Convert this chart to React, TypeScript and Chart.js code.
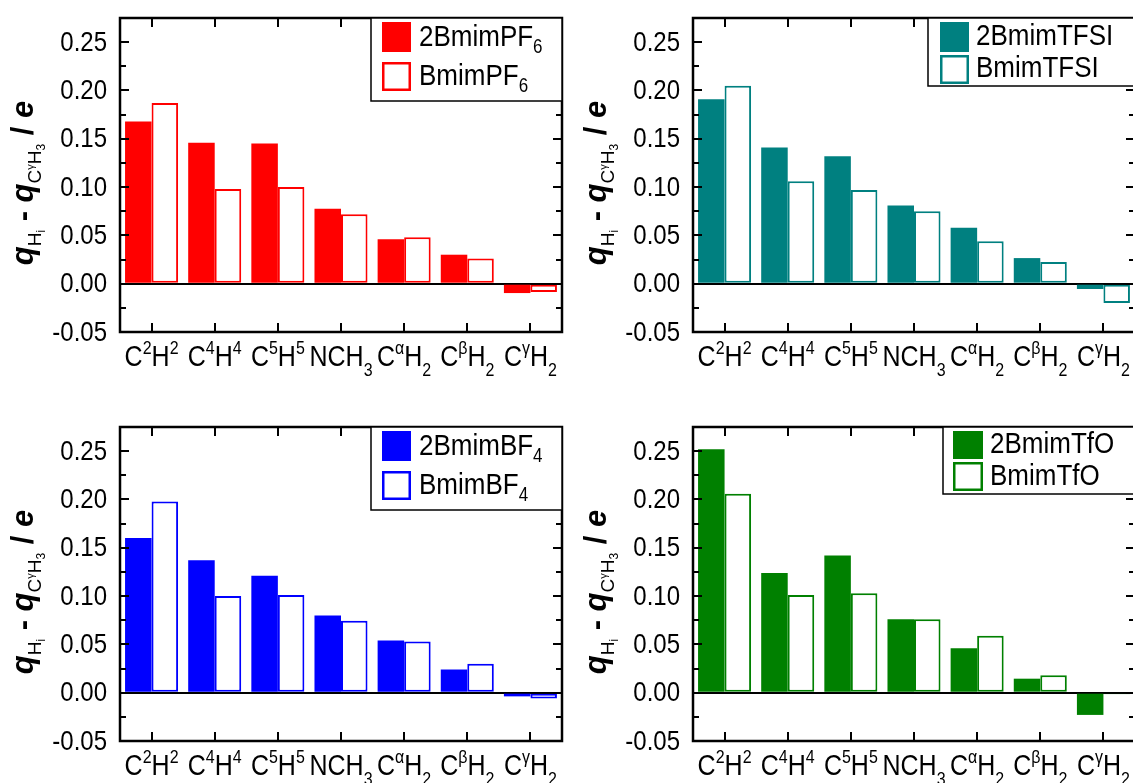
import React, { useEffect, useRef } from 'react';
import { Chart, registerables } from 'chart.js';

Chart.register(...registerables);

// ---------------- data ----------------
const categoryLabels = ['C^2H^2', 'C^4H^4', 'C^5H^5', 'NCH_3', 'C^αH_2', 'C^βH_2', 'C^γH_2'];

const yMin = -0.05;
const yMax = 0.275;
const yStep = 0.025;

const pf6Doubly = [0.168, 0.146, 0.145, 0.0775, 0.046, 0.030, -0.0097];
const pf6Single = [0.187, 0.098, 0.100, 0.072, 0.048, 0.026, -0.0086];

const tfsiDoubly = [0.191, 0.141, 0.132, 0.081, 0.058, 0.0265, -0.0055];
const tfsiSingle = [0.205, 0.106, 0.097, 0.075, 0.044, 0.0225, -0.020];

const bf4Doubly = [0.160, 0.137, 0.121, 0.080, 0.054, 0.024, -0.0038];
const bf4Single = [0.198, 0.100, 0.101, 0.0745, 0.053, 0.030, -0.006];

const tfoDoubly = [0.252, 0.124, 0.142, 0.076, 0.046, 0.0145, -0.023];
const tfoSingle = [0.206, 0.101, 0.103, 0.076, 0.059, 0.018, -0.0015];

const legendPF6 = ['2BmimPF_6', 'BmimPF_6'];
const legendTFSI = ['2BmimTFSI', 'BmimTFSI'];
const legendBF4 = ['2BmimBF_4', 'BmimBF_4'];
const legendTfO = ['2BmimTfO', 'BmimTfO'];

// ---------------- styling ----------------
const FONT = "'Liberation Sans', Arial, Helvetica, sans-serif";
const S = 1.15; // vertical text stretch of the reference

type Seg = { t: string; m: 'n' | 'sup' | 'sub' };

function parseRich(s: string): Seg[] {
  const segs: Seg[] = [];
  let i = 0;
  while (i < s.length) {
    const c = s[i];
    if ((c === '^' || c === '_') && i + 1 < s.length) {
      segs.push({ t: s[i + 1], m: c === '^' ? 'sup' : 'sub' });
      i += 2;
    } else {
      let t = '';
      while (i < s.length && s[i] !== '^' && s[i] !== '_') {
        t += s[i];
        i++;
      }
      segs.push({ t, m: 'n' });
    }
  }
  return segs;
}

function drawRich(
  ctx: CanvasRenderingContext2D,
  s: string,
  x: number,
  y: number,
  o: { size: number; small: number; raise: number; drop: number; center: boolean }
) {
  const segs = parseRich(s);
  const fontFor = (m: string) => `${m === 'n' ? o.size : o.small}px ${FONT}`;
  let total = 0;
  segs.forEach((sg) => {
    ctx.font = fontFor(sg.m);
    total += ctx.measureText(sg.t).width;
  });
  let cx = o.center ? -total / 2 : 0;
  ctx.save();
  ctx.translate(x, y);
  ctx.scale(1, S);
  ctx.textAlign = 'left';
  ctx.textBaseline = 'alphabetic';
  segs.forEach((sg) => {
    ctx.font = fontFor(sg.m);
    const dy = sg.m === 'sup' ? -o.raise : sg.m === 'sub' ? o.drop : 0;
    ctx.fillText(sg.t, cx, dy / S);
    cx += ctx.measureText(sg.t).width;
  });
  ctx.restore();
}

const titleSegs = [
  { t: 'q', f: `italic bold 31px ${FONT}`, dy: 0 },
  { t: 'H', f: `19px ${FONT}`, dy: 8 },
  { t: 'i', f: `12px ${FONT}`, dy: 12 },
  { t: ' - ', f: `bold 31px ${FONT}`, dy: 0 },
  { t: 'q', f: `italic bold 31px ${FONT}`, dy: 0 },
  { t: 'C', f: `19px ${FONT}`, dy: 8 },
  { t: 'γ', f: `11px ${FONT}`, dy: 1 },
  { t: 'H', f: `19px ${FONT}`, dy: 8 },
  { t: '3', f: `12px ${FONT}`, dy: 12 },
  { t: ' / ', f: `bold 31px ${FONT}`, dy: 0 },
  { t: 'e', f: `italic bold 31px ${FONT}`, dy: 0 },
];

type LegendCfg = {
  x: number;
  y: number;
  w: number;
  h: number;
  sqX: number;
  sqW: number;
  rows: { sqY: number; sqH: number; base: number }[];
  textX: number;
};

type PanelCfg = {
  left: number;
  top: number;
  color: string;
  doubly: number[];
  single: number[];
  legend: string[];
  box: LegendCfg;
};

const W = 566;
const H = 400;

const panels: PanelCfg[] = [
  {
    left: 0,
    top: 0,
    color: '#ff0000',
    doubly: pf6Doubly,
    single: pf6Single,
    legend: legendPF6,
    box: { x: 371, y: 18, w: 191, h: 83, sqX: 11, sqW: 29, rows: [{ sqY: 4, sqH: 30, base: 28 }, { sqY: 44, sqH: 29, base: 67 }], textX: 48 },
  },
  {
    left: 573,
    top: 0,
    color: '#008080',
    doubly: tfsiDoubly,
    single: tfsiSingle,
    legend: legendTFSI,
    box: { x: 355, y: 18, w: 207, h: 68, sqX: 12, sqW: 29, rows: [{ sqY: 4, sqH: 30, base: 27 }, { sqY: 37, sqH: 29, base: 59 }], textX: 48 },
  },
  {
    left: 0,
    top: 409,
    color: '#0000ff',
    doubly: bf4Doubly,
    single: bf4Single,
    legend: legendBF4,
    box: { x: 371, y: 18, w: 191, h: 83, sqX: 11, sqW: 29, rows: [{ sqY: 4, sqH: 30, base: 28 }, { sqY: 44, sqH: 29, base: 67 }], textX: 48 },
  },
  {
    left: 573,
    top: 409,
    color: '#008000',
    doubly: tfoDoubly,
    single: tfoSingle,
    legend: legendTfO,
    box: { x: 370, y: 18, w: 192, h: 67, sqX: 10, sqW: 30, rows: [{ sqY: 4, sqH: 28, base: 26 }, { sqY: 35, sqH: 29, base: 58 }], textX: 47 },
  },
];

function isMajor(v: number) {
  return Math.round(v * 1000) % 50 === 0;
}

function makeDecor(cfg: PanelCfg) {
  return {
    id: 'panelDecor',
    afterDraw(chart: any) {
      const ctx: CanvasRenderingContext2D = chart.ctx;
      const { left, right, top, bottom } = chart.chartArea;
      const xs = chart.scales.x;
      const ys = chart.scales.y;
      ctx.save();
      const line = (x1: number, y1: number, x2: number, y2: number) => {
        ctx.beginPath();
        ctx.moveTo(x1, y1);
        ctx.lineTo(x2, y2);
        ctx.stroke();
      };
      // frame
      ctx.strokeStyle = '#000';
      ctx.lineWidth = 2.5;
      ctx.strokeRect(left, top, right - left, bottom - top);

      // ticks
      ctx.lineWidth = 2;
      ys.ticks.forEach((t: any) => {
        const py = Math.round(ys.getPixelForValue(t.value));
        const len = isMajor(t.value) ? 9 : 6;
        line(left, py, left + len, py);
        line(right, py, right - len, py);
      });
      categoryLabels.forEach((_, i) => {
        const px = Math.round(xs.getPixelForValue(i));
        line(px, bottom, px, bottom - 9);
        line(px, top, px, top + 9);
      });

      // y tick labels
      ctx.fillStyle = '#000';
      ctx.font = `24px ${FONT}`;
      ctx.textAlign = 'right';
      ctx.textBaseline = 'middle';
      ys.ticks.forEach((t: any) => {
        if (!isMajor(t.value)) return;
        const py = ys.getPixelForValue(t.value);
        ctx.save();
        ctx.translate(left - 13, py + 1);
        ctx.scale(1, S);
        ctx.fillText(Number(t.value).toFixed(2), 0, 0);
        ctx.restore();
      });

      // x labels
      categoryLabels.forEach((lab, i) => {
        const px = xs.getPixelForValue(i);
        drawRich(ctx, lab, px, bottom + 34, { size: 25, small: 16, raise: 12, drop: 10, center: true });
      });

      // legend
      const b = cfg.box;
      ctx.fillStyle = '#fff';
      ctx.fillRect(b.x, b.y, b.w, b.h);
      ctx.lineWidth = 1.5;
      ctx.strokeStyle = '#000';
      ctx.strokeRect(b.x, b.y, b.w, b.h);
      b.rows.forEach((r, i) => {
        const sx = b.x + b.sqX;
        const sy = b.y + r.sqY;
        if (i === 0) {
          ctx.fillStyle = cfg.color;
          ctx.fillRect(sx, sy, b.sqW, r.sqH);
        } else {
          ctx.fillStyle = '#fff';
          ctx.fillRect(sx, sy, b.sqW, r.sqH);
          ctx.strokeStyle = cfg.color;
          ctx.lineWidth = 2.5;
          ctx.strokeRect(sx + 1.25, sy + 1.25, b.sqW - 2.5, r.sqH - 2.5);
        }
        ctx.fillStyle = '#000';
        drawRich(ctx, cfg.legend[i], b.x + b.textX, b.y + r.base, { size: 26, small: 17, raise: 9, drop: 7, center: false });
      });

      // y title (rotated)
      ctx.save();
      ctx.translate(33, 183);
      ctx.rotate(-Math.PI / 2);
      ctx.textAlign = 'left';
      ctx.textBaseline = 'alphabetic';
      ctx.fillStyle = '#000';
      let total = 0;
      titleSegs.forEach((s) => {
        ctx.font = s.f;
        total += ctx.measureText(s.t).width;
      });
      let cx = -total / 2;
      titleSegs.forEach((s) => {
        ctx.font = s.f;
        ctx.fillText(s.t, cx, s.dy);
        cx += ctx.measureText(s.t).width;
      });
      ctx.restore();

      ctx.restore();
    },
  };
}

function Panel({ cfg }: { cfg: PanelCfg }) {
  const ref = useRef<HTMLCanvasElement>(null);
  useEffect(() => {
    const canvas = ref.current!;
    const chart = new Chart(canvas, {
      type: 'bar',
      data: {
        labels: categoryLabels,
        datasets: [
          {
            label: cfg.legend[0],
            data: cfg.doubly,
            backgroundColor: cfg.color,
            borderColor: cfg.color,
            borderWidth: 0,
          },
          {
            label: cfg.legend[1],
            data: cfg.single,
            backgroundColor: '#ffffff',
            borderColor: cfg.color,
            borderWidth: 2,
            borderSkipped: false,
          },
        ],
      },
      options: {
        responsive: false,
        animation: false,
        devicePixelRatio: 1,
        events: [],
        datasets: { bar: { barPercentage: 1, categoryPercentage: 0.84 } },
        layout: { padding: { left: 0, top: 18, right: 4, bottom: 68 } },
        plugins: { legend: { display: false }, tooltip: { enabled: false } },
        scales: {
          x: {
            type: 'category',
            display: false,
            offset: true,
          },
          y: {
            min: yMin,
            max: yMax,
            afterFit: (scale: any) => {
              scale.width = 120;
            },
            border: { display: false },
            grid: {
              drawTicks: false,
              color: (c: any) => (c.tick && Math.abs(c.tick.value) < 1e-9 ? '#000' : 'rgba(0,0,0,0)'),
              lineWidth: (c: any) => (c.tick && Math.abs(c.tick.value) < 1e-9 ? 2 : 0),
            },
            ticks: {
              display: false,
              stepSize: yStep,
              autoSkip: false,
            },
          },
        },
      },
      plugins: [makeDecor(cfg)],
    } as any);
    return () => chart.destroy();
  }, [cfg]);
  return (
    <canvas
      ref={ref}
      width={W}
      height={H}
      style={{ position: 'absolute', left: cfg.left, top: cfg.top }}
    />
  );
}

export default function App() {
  return (
    <div
      style={{
        position: 'fixed',
        left: 0,
        top: 0,
        width: 1133,
        height: 783,
        overflow: 'hidden',
        background: '#ffffff',
      }}
    >
      {panels.map((p, i) => (
        <Panel key={i} cfg={p} />
      ))}
    </div>
  );
}
